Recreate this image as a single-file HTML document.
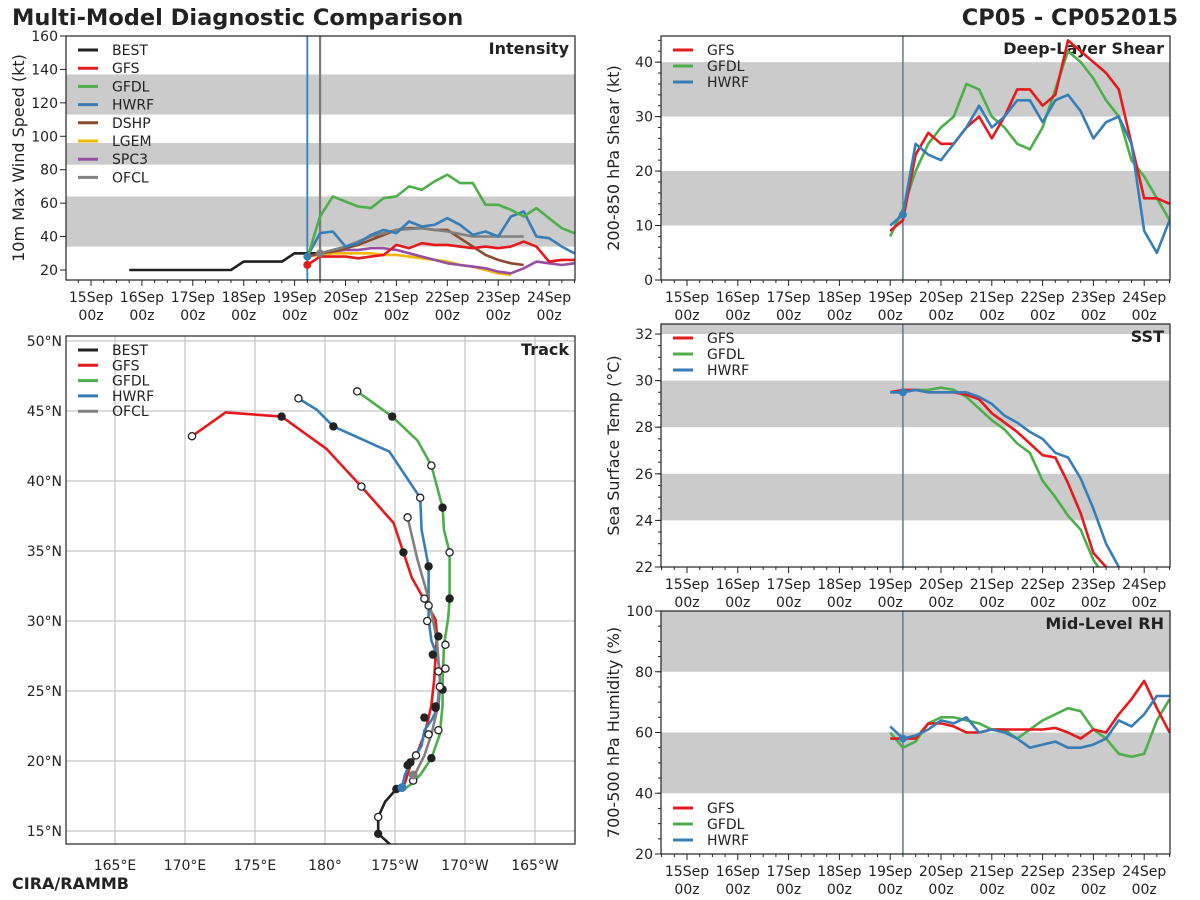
<!DOCTYPE html>
<html><head><meta charset="utf-8"><title>Multi-Model Diagnostic Comparison</title>
<style>
html,body{margin:0;padding:0;background:#fff;}
svg{display:block;font-family:"DejaVu Sans","Liberation Sans",sans-serif;}
</style></head>
<body>
<svg id="chart" width="1200" height="900" viewBox="0 0 1200 900" xmlns="http://www.w3.org/2000/svg">
<text x="12" y="25" font-size="22.5" font-weight="bold" fill="#222">Multi-Model Diagnostic Comparison</text>
<text x="1178" y="25" font-size="22.5" font-weight="bold" fill="#222" text-anchor="end">CP05 - CP052015</text>
<text x="12" y="889" font-size="16" font-weight="bold" fill="#222">CIRA/RAMMB</text>
</svg>
<script>
// ---------- DATA ----------
const dayLabels = ["15Sep","16Sep","17Sep","18Sep","19Sep","20Sep","21Sep","22Sep","23Sep","24Sep"];
// Intensity (kt); BEST 6-hourly from hour 18 after 15Sep00z
const bestHours = [18,24,30,36,42,48,54,60,66,72,78,84,90,96,102];
const bestVals  = [20,20,20,20,20,20,20,20,20,25,25,25,25,30,30];
const bestHours2 = [96,102,108];
const bestVals2  = [30,30,30];
// models, 6-hourly from 19Sep06z (hour 102)
const intGFS  = [23,28,28,28,27,28,29,35,33,36,35,35,34,33,34,33,34,37,34,25,26,26];
const intGFDL = [27,52,64,61,58,57,63,64,70,68,73,77,72,72,59,59,56,52,57,51,45,42];
const intHWRF = [28,42,43,34,36,41,44,42,49,46,47,51,47,41,43,40,52,55,40,39,34,30];
const intDSHP = [28,30,31,33,35,38,41,44,45,45,44,44,39,34,29,26,24,23];
const intLGEM = [28,29,30,30,30,30,29,29,28,27,26,25,23,22,20,18,17];
const intSPC3 = [28,30,31,32,32,33,33,32,30,28,26,24,23,22,21,19,18,21,25,24,23,24,25];
// OFCL 12-hourly from 19Sep12z
const intOFCL = [30,34,40,44,45,43,40,40,40];
const intensityBands = [[34,64],[83,96],[113,137]];
// Shear (kt), 6-hourly from 19Sep00z
const shrGFS  = [9,11,23,27,25,25,28,30,26,30,35,35,32,34,44,42,40,38,35,25,15,15,14];
const shrGFDL = [8,13,20,25,28,30,36,35,30,28,25,24,28,35,42,40,37,33,30,22,19,15,11];
const shrHWRF = [10,12,25,23,22,25,28,32,28,30,33,33,29,33,34,31,26,29,30,25,9,5,11];
// SST (C)
const sstGFS  = [29.5,29.6,29.6,29.5,29.5,29.5,29.4,29.2,28.6,28.2,27.8,27.3,26.8,26.7,25.6,24.3,22.6,22.0,21.5];
const sstGFDL = [29.5,29.5,29.6,29.6,29.7,29.6,29.3,28.8,28.3,27.9,27.3,26.9,25.7,25.0,24.2,23.6,22.3,21.5];
const sstHWRF = [29.5,29.5,29.6,29.5,29.5,29.5,29.5,29.3,29.0,28.5,28.2,27.8,27.5,26.9,26.7,25.8,24.5,23.0,22.0,21.5];
// Mid-level RH (%)
const rhGFS  = [58,58,58,63,63,62,60,60,61,61,61,61,61,61.5,60,58,61,60,66,71,77,68,60];
const rhGFDL = [60,55,57,63,65,65,64,63,61,61,58,61,64,66,68,67,61,58,53,52,53,64,71];
const rhHWRF = [62,58,59,61,64,63,65,60,61,60,58,55,56,57,55,55,56,58,64,62,66,72,72];
// Track [lonE, lat]
const trkGFS  = [[170.5,43.2],[172.9,44.9],[176.9,44.6],[180.1,42.3],[182.6,39.6],[184.9,37.0],[185.6,34.9],[186.2,33.1],[187.1,31.5],[187.9,30.1],[188.0,29.0],[187.9,27.6],[187.8,25.8],[187.6,24.0],[187.4,23.1],[187.1,21.9],[186.6,20.6],[186.1,19.7],[185.7,18.4],[185.2,17.9]];
const trkHWRF = [[178.1,45.9],[179.4,45.1],[180.6,43.9],[184.6,42.1],[186.8,38.8],[186.9,36.5],[187.4,33.9],[187.4,31.1],[187.4,30.1],[187.6,28.6],[188.0,27.5],[188.2,26.5],[188.2,25.1],[188.1,23.9],[187.6,22.9],[187.1,22.2],[186.9,21.1],[186.6,20.6],[186.2,20.1],[185.7,19.0],[185.5,18.1]];
const trkGFDL = [[182.3,46.4],[184.8,44.6],[186.6,42.9],[187.6,41.1],[188.4,38.1],[188.5,36.5],[188.9,34.9],[188.9,31.6],[188.8,30.2],[188.5,28.3],[188.4,25.8],[188.4,24.0],[188.2,21.9],[187.6,20.2],[186.8,19.0],[186.1,18.3],[185.5,17.9]];
const trkOFCL = [[185.9,37.4],[186.6,34.4],[187.4,31.6],[188.0,28.6],[188.2,25.8],[188.0,23.6],[187.6,21.9],[187.1,20.4],[186.4,19.0],[186.3,18.6]];
const trkBEST = [[185.1,18.0],[184.3,17.1],[183.8,16.0],[183.8,14.8],[184.7,14.0]];
// markers [lon, lat, filled]
const mkGFS  = [[170.5,43.2,0],[176.9,44.6,1],[182.6,39.6,0],[185.6,34.9,1],[187.1,31.6,0],[188.1,28.9,1],[187.9,23.8,1],[185.9,19.7,1],[185.1,18.0,1]];
const mkHWRF = [[178.1,45.9,0],[180.6,43.9,1],[186.8,38.8,0],[187.4,33.9,1],[187.4,31.1,0],[187.3,30.0,0],[187.7,27.6,1],[188.2,25.3,0],[187.9,23.9,1],[187.1,23.1,1],[186.1,19.9,1]];
const mkGFDL = [[182.3,46.4,0],[184.8,44.6,1],[187.6,41.1,0],[188.4,38.1,1],[188.9,34.9,0],[188.9,31.6,1],[188.6,28.3,0],[188.6,26.6,0],[188.4,25.1,1],[188.1,22.2,0],[187.6,20.2,1],[186.3,18.6,0]];
const mkOFCL = [[185.9,37.4,0],[188.1,26.4,0],[187.4,21.9,0],[186.5,20.4,0]];
const mkBEST = [[183.8,16.0,0],[183.8,14.8,1]];
const lonTicks = [165,170,175,180,185,190,195];
const lonLabels = ["165°E","170°E","175°E","180°","175°W","170°W","165°W"];
const latTicks = [15,20,25,30,35,40,45,50];

const C = {BEST:"#222222",GFS:"#e41a1c",GFDL:"#4daf4a",HWRF:"#377eb8",DSHP:"#8c4a2a",LGEM:"#f2b800",SPC3:"#984ea3",OFCL:"#808080"};

// ---------- HELPERS ----------
const svg = document.getElementById('chart');
const NS = "http://www.w3.org/2000/svg";
function mk(tag, attrs, parent){
  const e = document.createElementNS(NS, tag);
  for (const k in attrs) e.setAttribute(k, attrs[k]);
  (parent||svg).appendChild(e);
  return e;
}
function txt(x,y,s,size,anchor,parent,extra){
  const t = mk('text', Object.assign({x:x,y:y,'font-size':size,'text-anchor':anchor||'start',fill:'#222'}, extra||{}), parent);
  t.textContent = s;
  return t;
}

function timePanel(p){
  const g = mk('g', {});
  
  
  const xs = h => p.xOrigin + h * p.dayW / 24;
  const Y = v => p.y1 - (v - p.vmin) * (p.y1 - p.y0) / (p.vmax - p.vmin);
  const clip = 'clip-' + p.name;
  const cp = mk('clipPath', {id: clip}, g);
  mk('rect', {x:p.x0, y:p.y0, width:p.x1-p.x0, height:p.y1-p.y0}, cp);
  p.bands.forEach((b,i) => {
    const r = mk('rect', {x:p.x0, y:Y(Math.min(b[1],p.vmax)), width:p.x1-p.x0, height:Y(b[0])-Y(Math.min(b[1],p.vmax)), fill:'#cbcbcb'}, g);
    
    
  });
  p.ticks.forEach(v => {
    mk('line', {x1:p.x0-6, x2:p.x0, y1:Y(v), y2:Y(v), stroke:'#222', 'stroke-width':1}, g);
    const t = txt(p.x0-8, Y(v)+5, String(v), 14, 'end', g);
    
    
  });
  for (let v = p.vmin; v <= p.vmax; v += p.minor) {
    if (Math.abs(v - Math.round(v/p.minor)*p.minor) < 1e-6 && Y(v) >= p.y0 - 0.5 && Y(v) <= p.y1 + 0.5)
      mk('line', {x1:p.x0-3, x2:p.x0, y1:Y(v), y2:Y(v), stroke:'#222', 'stroke-width':1}, g);
  }
  for (let h = -24; h <= 10*24; h += 6) {
    const x = xs(h);
    if (x < p.x0 || x > p.x1) continue;
    const major = h % 24 === 0;
    mk('line', {x1:x, x2:x, y1:p.y1, y2:p.y1 + (major?6:3), stroke:'#222', 'stroke-width':1}, g);
  }
  dayLabels.forEach((d,i) => {
    const x = xs(i*24);
    const t1 = txt(x, p.y1+22, d, 14, 'middle', g);
    
    
    const t2 = txt(x, p.y1+40, '00z', 14, 'middle', g);
    
    
  });
  const yl = txt(0, 0, p.ylabel, 16, 'middle', g, {transform:'translate(' + (p.x0-42) + ',' + ((p.y0+p.y1)/2) + ') rotate(-90)'});
  
  
  const tt = txt(p.x1-6, p.y0+18, p.title, 16, 'end', g, {'font-weight':'bold'});
  
  
  const plot = mk('g', {'clip-path':'url(#' + clip + ')'}, g);
  return {g:g, plot:plot, xs:xs, Y:Y, p:p};
}
function frame(P){
  const p = P.p;
  const f = mk('rect', {x:p.x0, y:p.y0, width:p.x1-p.x0, height:p.y1-p.y0, fill:'none', stroke:'#222', 'stroke-width':1.2}, P.g);
  
  
}
function series(P, vals, startH, stepH, color, name){
  const pts = vals.map((v,i) => P.xs(startH + i*stepH).toFixed(1) + ',' + P.Y(v).toFixed(1)).join(' ');
  const l = mk('polyline', {points:pts, fill:'none', stroke:color, 'stroke-width':2.6, 'stroke-linejoin':'round'}, P.plot);
  
  
  return l;
}
function vline(P, h, color, w){
  mk('line', {x1:P.xs(h), x2:P.xs(h), y1:P.p.y0, y2:P.p.y1, stroke:color, 'stroke-width':w||1.6}, P.plot);
}
function legend(parent, x, y, names, step){
  names.forEach((n,i) => {
    const lg = mk('g', {}, parent);
    
    
    mk('line', {x1:x, x2:x+20, y1:y+i*step, y2:y+i*step, stroke:C[n], 'stroke-width':3}, lg);
    txt(x+34, y+i*step+5, n, 14, 'start', lg);
  });
}

// ---------- INTENSITY ----------
const PI = timePanel({name:'intensity', x0:66, x1:575, y0:36, y1:280, vmin:14, vmax:160, ticks:[20,40,60,80,100,120,140,160], minor:5, bands:intensityBands, ylabel:'10m Max Wind Speed (kt)', title:'Intensity', xOrigin:91, dayW:50.9});
vline(PI, 102, C.HWRF, 1.8);
vline(PI, 108, '#7a7a7a', 2.2);
series(PI, bestVals, bestHours[0], 6, C.BEST, 'best');
series(PI, bestVals2, bestHours2[0], 6, C.BEST, 'best-recent');
series(PI, intLGEM, 102, 6, C.LGEM, 'lgem');
series(PI, intSPC3, 102, 6, C.SPC3, 'spc3');
series(PI, intDSHP, 102, 6, C.DSHP, 'dshp');
series(PI, intOFCL, 108, 12, C.OFCL, 'ofcl');
series(PI, intGFS, 102, 6, C.GFS, 'gfs');
series(PI, intHWRF, 102, 6, C.HWRF, 'hwrf');
series(PI, intGFDL, 102, 6, C.GFDL, 'gfdl');
mk('circle', {cx:PI.xs(102), cy:PI.Y(intGFS[0]), r:4, fill:C.GFS}, PI.plot);
mk('circle', {cx:PI.xs(102), cy:PI.Y(intHWRF[0]), r:4, fill:C.HWRF}, PI.plot);
mk('circle', {cx:PI.xs(108), cy:PI.Y(intOFCL[0]), r:4, fill:C.OFCL}, PI.plot);
frame(PI);
legend(PI.g, 78, 50, ['BEST','GFS','GFDL','HWRF','DSHP','LGEM','SPC3','OFCL'], 18.2);

// ---------- RIGHT PANELS ----------
function rightPanel(cfg, arrays){
  const P = timePanel(Object.assign({x0:661, x1:1170, xOrigin:687, dayW:50.8}, cfg));
  vline(P, 102, '#6a7f90', 1.6);
  series(P, arrays[1], 96, 6, C.GFDL, 'gfdl');
  series(P, arrays[0], 96, 6, C.GFS, 'gfs');
  series(P, arrays[2], 96, 6, C.HWRF, 'hwrf');
  mk('circle', {cx:P.xs(102), cy:P.Y(arrays[2][1]), r:4, fill:C.HWRF}, P.plot);
  frame(P);
  return P;
}
const PS = rightPanel({name:'shear', y0:36, y1:280, vmin:0, vmax:44.8, ticks:[0,10,20,30,40], minor:2, bands:[[10,20],[30,40]], ylabel:'200-850 hPa Shear (kt)', title:'Deep-Layer Shear'}, [shrGFS, shrGFDL, shrHWRF]);
legend(PS.g, 673, 50, ['GFS','GFDL','HWRF'], 16);
const PT = rightPanel({name:'sst', y0:324, y1:567, vmin:22, vmax:32.43, ticks:[22,24,26,28,30,32], minor:0.5, bands:[[24,26],[28,30],[32,33]], ylabel:'Sea Surface Temp (°C)', title:'SST'}, [sstGFS, sstGFDL, sstHWRF]);
legend(PT.g, 673, 338, ['GFS','GFDL','HWRF'], 16);
const PR = rightPanel({name:'rh', y0:611, y1:854, vmin:20, vmax:100, ticks:[20,40,60,80,100], minor:5, bands:[[40,60],[80,100]], ylabel:'700-500 hPa Humidity (%)', title:'Mid-Level RH'}, [rhGFS, rhGFDL, rhHWRF]);
legend(PR.g, 673, 808, ['GFS','GFDL','HWRF'], 16);

// ---------- TRACK ----------
const T = {x0:66, x1:575, y0:336, y1:844};
const TX = lon => 325 + (lon - 180) * 14;
const TY = lat => 831 - (lat - 15) * 14;
const tg = mk('g', {});


const tcp = mk('clipPath', {id:'clip-track'}, tg);
mk('rect', {x:T.x0, y:T.y0, width:T.x1-T.x0, height:T.y1-T.y0}, tcp);
const tplot = mk('g', {'clip-path':'url(#clip-track)'}, tg);
lonTicks.forEach((lo,i) => {
  mk('line', {x1:TX(lo), x2:TX(lo), y1:T.y0, y2:T.y1, stroke:'#c8c8c8', 'stroke-width':1.3}, tplot);
  const t = txt(TX(lo), T.y1+26, lonLabels[i], 14, 'middle', tg);
  
  
});
latTicks.forEach(la => {
  mk('line', {x1:T.x0, x2:T.x1, y1:TY(la), y2:TY(la), stroke:'#c8c8c8', 'stroke-width':1.3}, tplot);
  const t = txt(T.x0-4, TY(la)+5, la + '°N', 14, 'end', tg);
  
  
});
function track(pts, color, name){
  const l = mk('polyline', {points:pts.map(p => TX(p[0]).toFixed(1) + ',' + TY(p[1]).toFixed(1)).join(' '), fill:'none', stroke:color, 'stroke-width':2.6, 'stroke-linejoin':'round'}, tplot);
  
  
}
function marks(pts, fillColor, name){
  pts.forEach(p => {
    const c = mk('circle', {cx:TX(p[0]), cy:TY(p[1]), r:p[2] ? 4.2 : 3.6, fill:p[2] ? fillColor : '#fff', stroke:'#222', 'stroke-width':p[2]?0:1.3}, tplot);
    
    
  });
}
track(trkBEST, C.BEST, 'best');
track(trkGFDL, C.GFDL, 'gfdl');
track(trkGFS, C.GFS, 'gfs');
track(trkHWRF, C.HWRF, 'hwrf');
track(trkOFCL, C.OFCL, 'ofcl');
marks(mkGFDL, '#222', 'gfdl');
marks(mkGFS, '#222', 'gfs');
marks(mkHWRF, '#222', 'hwrf');
marks(mkOFCL, '#222', 'ofcl');
marks(mkBEST, '#222', 'best');
mk('circle', {cx:TX(185.5), cy:TY(18.1), r:4.5, fill:C.HWRF}, tplot);
mk('circle', {cx:TX(186.3), cy:TY(19.0), r:4.5, fill:C.OFCL}, tplot);
const tf = mk('rect', {x:T.x0, y:T.y0, width:T.x1-T.x0, height:T.y1-T.y0, fill:'none', stroke:'#222', 'stroke-width':1.2}, tg);


const ttl = txt(T.x1-6, T.y0+19, 'Track', 16, 'end', tg, {'font-weight':'bold'});


legend(tg, 78, 350, ['BEST','GFS','GFDL','HWRF','OFCL'], 15.3);
</script>
</body></html>
